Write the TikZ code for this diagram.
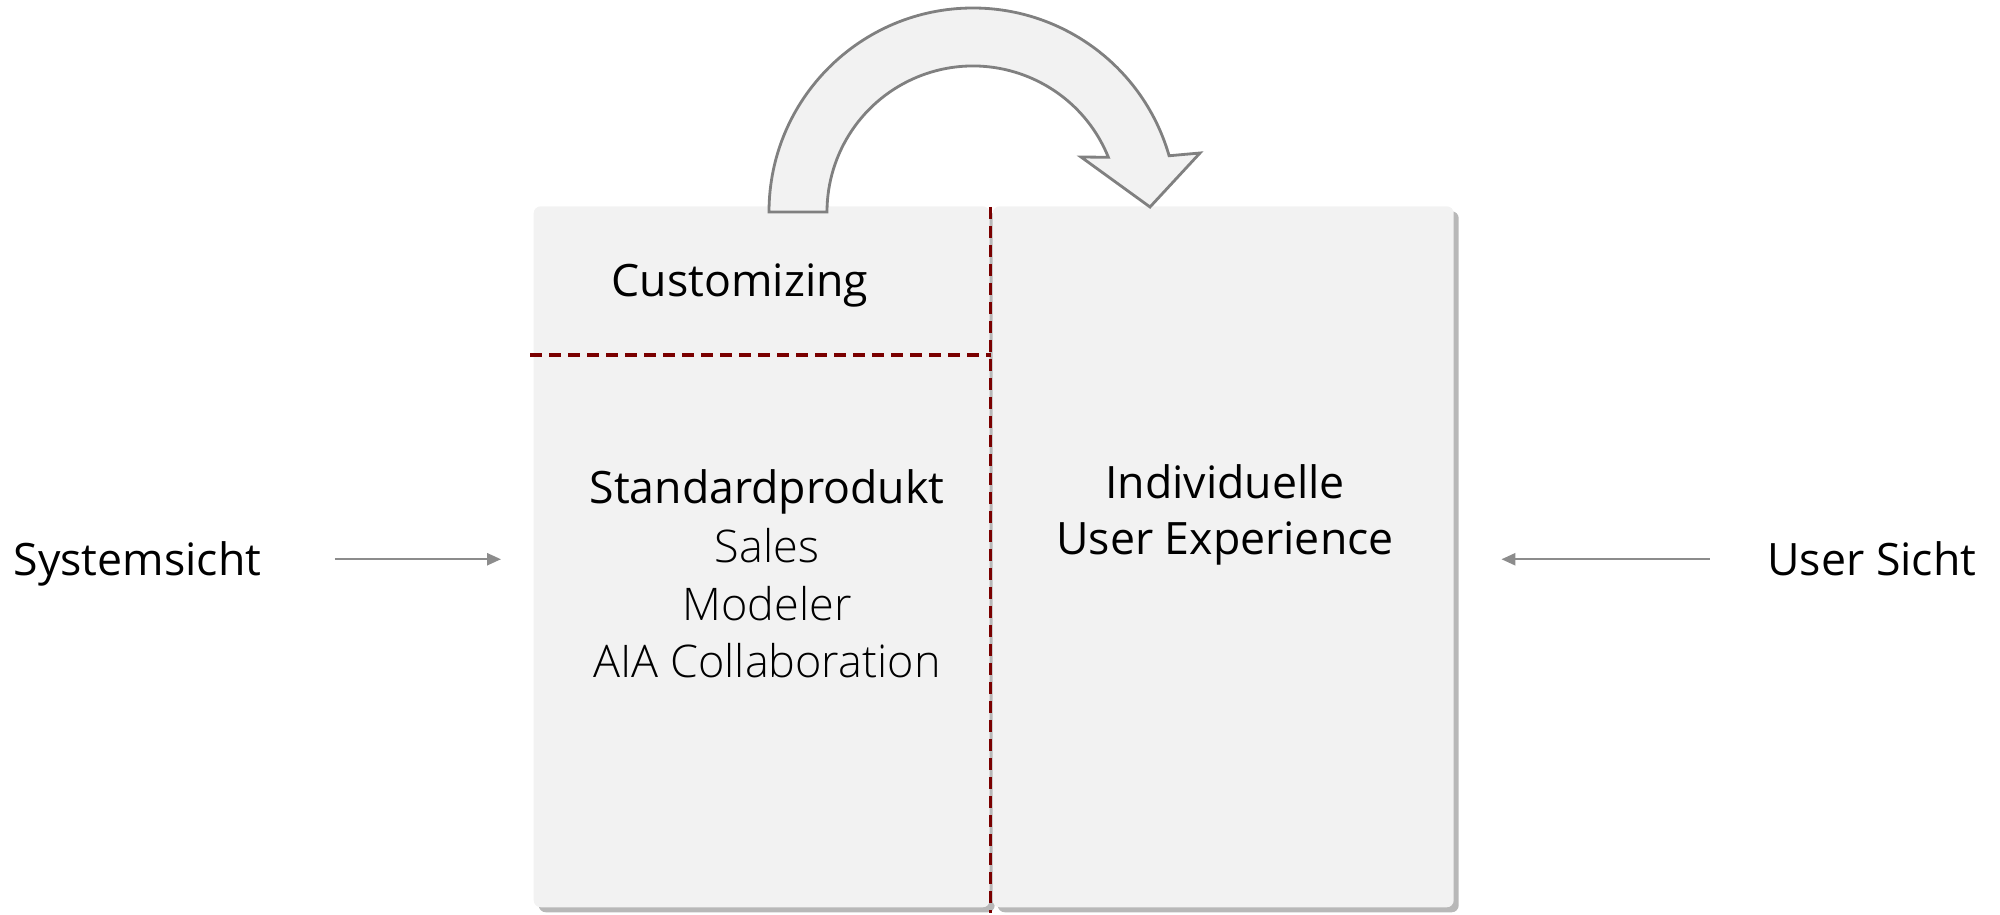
\documentclass[tikz,border=0pt]{standalone}
\usepackage{fontspec}
\setmainfont{Open Sans}
\newfontfamily\lightfont{Open Sans Light}
\usepackage{tikz}
\usetikzlibrary{arrows.meta, positioning, shadows, calc}
\definecolor{panelgray}{RGB}{242,242,242}
\definecolor{rimgray}{RGB}{128,128,128}
\definecolor{linkgray}{RGB}{140,140,140}
\definecolor{splitred}{RGB}{122,0,0}

\begin{document}
\begin{tikzpicture}[
    panel/.style={draw=none,fill=panelgray,rounded corners=2pt,anchor=south west,
      drop shadow={shadow xshift=0.05cm,shadow yshift=-0.05cm,fill=black,opacity=0.28}},
    split/.style={draw=splitred,line width=0.9pt,dash pattern=on 0.12cm off 0.07cm},
    conn/.style={draw=linkgray,line width=0.7pt,-{Triangle[length=0.14cm,width=0.12cm]}},
    lbl/.style={font=\fontsize{12.7}{16}\selectfont,inner sep=0pt},
    lite/.style={font=\lightfont\fontsize{12.8}{16.3}\selectfont,inner sep=0pt}
  ]
  \useasboundingbox (0,0) rectangle (20,9.15);

  \node[panel,minimum width=4.56cm,minimum height=7.01cm] (lbox) at (5.33,0.07) {};
  \node[panel,minimum width=4.61cm,minimum height=7.01cm] (rbox) at (9.92,0.07) {};

  % separators
  \coordinate (vtop) at (9.905,7.08);
  \coordinate (vbot) at (9.905,0.02);
  \coordinate (hleft) at (5.30,5.60);
  \draw[split] (vtop) -- (vbot);
  \draw[split] (hleft) -- (hleft -| vtop);

  % turning arrow
  \coordinate (hub) at (9.73,7.03);
  \draw[rimgray,fill=panelgray,line width=0.8pt,line join=miter]
    ([shift={(180:2.04)}]hub) arc[start angle=180,end angle=16,radius=2.04]
    -- (12.00,7.62) -- (11.50,7.08) -- (10.81,7.58)
    -- ([shift={(22:1.46)}]hub) arc[start angle=22,end angle=180,radius=1.46] -- cycle;

  \node[lbl] (cust) at (7.40,6.30) {Customizing};
  \node[lbl] (std) at (7.67,4.23) {Standardprodukt};
  \node[lite,align=center,below=0.13cm of std] (mods) {Sales\\Modeler\\AIA Collaboration};
  \node[lbl,align=center] (indiv) at (12.25,4.00)
    {Individuelle\\User Experience};

  \node[lbl,anchor=base west] (sys) at (0.13,3.39) {Systemsicht};
  \node[lbl,anchor=base east] (usr) at (19.77,3.39) {User Sicht};
  \draw[conn,shorten <=0.73cm,shorten >=0.32cm] (sys.east |- usr.west) -- (usr.west -| lbox.west);
  \draw[conn,shorten <=0.57cm,shorten >=0.47cm] (usr.west) -- (usr.west -| rbox.east);
\end{tikzpicture}
\end{document}
